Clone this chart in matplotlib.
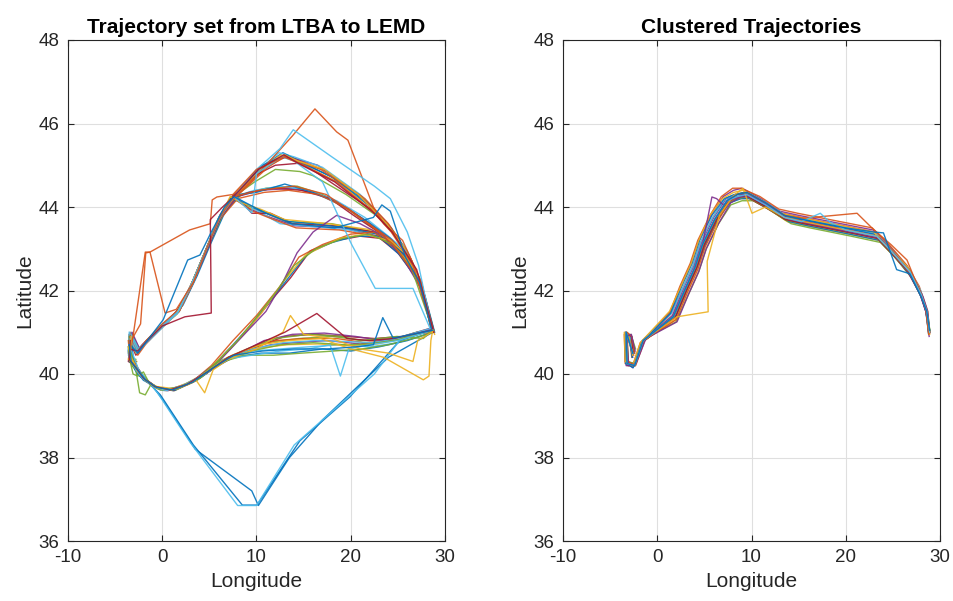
import matplotlib
matplotlib.use("Agg")
import matplotlib.pyplot as plt
from cycler import cycler

plt.rcParams['font.family'] = ['Liberation Sans', 'DejaVu Sans']
plt.rcParams['axes.unicode_minus'] = False

MATLAB = ['#0072BD', '#D95319', '#EDB120', '#7E2F8E', '#77AC30', '#4DBEEE', '#A2142F']

# ---------------- Left panel: full trajectory set (lon, lat) ----------------
north_top = [
    [(28.8,41.0),(27.8,41.9),(26.5,42.7),(24.3,43.5),(22.4,43.95),(18.1,44.7),(14.6,45.1),(12.8,45.3),(10.4,44.95),(7.5,44.25),(6.1,43.75),(4.7,43.0),(3.3,42.2),(1.8,41.5),(0.0,41.15),(-1.8,40.75),(-2.6,40.55),(-3.3,40.95),(-3.5,40.45),(-3.0,40.3)],
    [(28.7,41.1),(27.6,42.1),(26.2,42.85),(24.0,43.6),(21.5,44.2),(17.5,44.85),(14.2,45.15),(13.1,45.2),(11.0,44.95),(8.0,44.3),(6.4,43.8),(5.0,43.1),(3.5,42.3),(2.0,41.6),(0.3,41.2),(-1.5,40.8),(-2.5,40.6),(-3.4,41.0),(-3.6,40.5),(-2.9,40.25)],
    [(28.9,40.95),(27.9,41.8),(26.8,42.5),(24.6,43.4),(22.8,43.8),(19.0,44.55),(15.0,45.0),(12.6,45.25),(10.0,44.85),(7.2,44.2),(5.9,43.7),(4.4,42.85),(3.0,42.1),(1.5,41.45),(-0.2,41.1),(-2.0,40.7),(-2.8,40.5),(-3.2,40.85),(-3.4,40.35),(-2.7,40.3)],
    [(28.6,41.05),(27.5,42.2),(25.8,43.0),(23.5,43.7),(20.5,44.35),(16.5,45.0),(13.5,45.2),(12.2,45.15),(9.6,44.75),(7.8,44.3),(6.2,43.8),(4.9,43.05),(3.6,42.35),(2.1,41.65),(0.5,41.25),(-1.3,40.85),(-2.4,40.6),(-3.1,40.9),(-3.5,40.6),(-3.2,40.3)],
    [(28.7,41.0),(27.4,42.2),(25.5,43.1),(23.0,43.75),(19.5,44.3),(16.0,44.75),(14.6,44.85),(12.0,44.9),(9.8,44.6),(7.6,44.25),(6.0,43.7),(4.6,42.95),(3.2,42.2),(1.7,41.5),(0.1,41.15),(-1.7,40.75),(-2.7,40.55),(-3.4,40.8),(-3.5,40.4),(-2.8,40.35)],
    [(28.8,41.05),(27.7,42.0),(26.0,42.95),(24.0,43.55),(21.0,44.3),(17.0,44.95),(14.0,45.2),(12.4,45.3),(10.8,45.0),(8.2,44.35),(6.3,43.85),(4.8,43.0),(3.4,42.25),(1.9,41.55),(0.2,41.2),(-1.6,40.8),(-2.6,40.6),(-3.3,41.0),(-3.4,40.45),(-2.9,40.2)],
    [(28.7,41.0),(27.5,42.1),(25.2,43.2),(22.5,43.9),(19.8,44.3),(16.2,44.85),(14.6,45.05),(12.0,45.0),(10.2,44.8),(7.4,44.25),(6.1,43.8),(4.6,42.95),(3.1,42.15),(1.6,41.5),(-0.1,41.15),(-1.9,40.75),(-2.7,40.55),(-3.5,40.9),(-3.4,40.4),(-2.8,40.3)],
    [(28.9,41.0),(27.9,41.85),(26.6,42.6),(24.4,43.45),(21.8,44.1),(17.8,44.75),(14.8,45.05),(13.2,45.25),(10.6,45.0),(7.9,44.3),(6.5,43.8),(5.1,43.1),(3.7,42.35),(2.2,41.65),(0.4,41.2),(-1.4,40.8),(-2.5,40.6),(-3.4,40.95),(-3.6,40.55),(-3.1,40.25)],
    [(28.6,41.0),(27.6,42.0),(26.4,42.75),(24.1,43.55),(21.2,44.25),(16.8,44.9),(13.8,45.15),(12.9,45.2),(11.2,44.95),(8.1,44.3),(6.2,43.75),(4.7,42.95),(3.3,42.2),(1.8,41.55),(0.1,41.2),(-1.7,40.8),(-2.6,40.5),(-3.3,40.75),(-3.5,40.3),(-2.9,40.3)],
    [(28.8,41.0),(27.6,42.05),(25.9,42.95),(23.8,43.6),(20.8,44.3),(17.2,44.9),(14.4,45.1),(13.0,45.25),(10.5,44.9),(7.7,44.25),(6.0,43.75),(4.5,42.9),(3.1,42.15),(1.6,41.45),(-0.1,41.1),(-1.9,40.7),(-2.7,40.5),(-3.4,40.95),(-3.5,40.5),(-3.0,40.2)],
]

north_mid = [
    [(28.7,41.0),(27.6,42.0),(26.0,42.8),(24.5,43.15),(22.0,43.6),(19.5,44.0),(17.5,44.25),(13.9,44.45),(10.4,44.4),(8.0,44.25),(6.3,43.8),(4.8,43.05),(3.4,42.25),(1.8,41.5),(0.0,41.15),(-1.8,40.75),(-2.6,40.5),(-3.3,40.8),(-3.5,40.35),(-2.9,40.3)],
    [(28.8,41.05),(27.8,41.9),(26.2,42.7),(24.8,43.05),(22.4,43.5),(20.0,43.9),(17.0,44.3),(14.3,44.5),(11.0,44.45),(8.4,44.3),(6.5,43.85),(5.0,43.1),(3.5,42.3),(2.0,41.6),(0.2,41.2),(-1.5,40.8),(-2.5,40.6),(-3.2,40.95),(-3.4,40.5),(-2.7,40.2)],
    [(28.6,41.1),(27.4,42.2),(25.8,42.95),(24.0,43.3),(21.5,43.75),(18.5,44.15),(15.5,44.4),(12.5,44.5),(9.8,44.4),(7.6,44.25),(6.0,43.75),(4.5,42.9),(3.1,42.15),(1.6,41.45),(-0.1,41.15),(-1.9,40.7),(-2.7,40.5),(-3.4,40.9),(-3.5,40.45),(-3.0,40.3)],
    [(28.7,41.0),(27.7,41.95),(26.3,42.6),(24.6,43.1),(22.6,43.45),(20.3,43.8),(17.8,44.2),(14.8,44.4),(11.8,44.45),(9.2,44.35),(7.3,44.2),(5.8,43.6),(4.3,42.8),(2.9,42.05),(1.3,41.4),(-0.4,41.05),(-2.1,40.7),(-2.8,40.45),(-3.3,40.7),(-3.6,40.3),(-2.8,40.2)],
    [(28.8,41.0),(27.5,42.1),(25.9,42.85),(24.2,43.25),(21.8,43.65),(19.0,44.05),(16.0,44.35),(13.0,44.55),(10.0,44.35),(8.2,44.3),(6.2,43.75),(4.7,42.95),(3.3,42.2),(1.7,41.5),(0.0,41.15),(-1.7,40.75),(-2.6,40.55),(-3.5,40.95),(-3.4,40.35),(-2.9,40.25)],
    [(28.7,41.05),(27.5,42.05),(26.1,42.75),(24.4,43.2),(22.2,43.55),(19.8,43.95),(16.6,44.3),(13.4,44.4),(10.8,44.35),(8.0,44.2),(6.1,43.7),(4.6,42.95),(3.2,42.2),(1.7,41.5),(0.0,41.15),(-1.8,40.7),(-2.6,40.45),(-3.3,40.85),(-3.5,40.4),(-2.8,40.25)],
]

north_low = [
    [(28.7,41.0),(27.3,42.2),(26.0,42.75),(24.5,43.05),(22.8,43.35),(18.5,43.55),(13.6,43.6),(11.0,43.85),(9.0,44.0),(7.4,44.25),(6.1,43.75),(4.7,43.0),(3.3,42.2),(1.8,41.5),(0.0,41.15),(-1.8,40.75),(-2.6,40.55),(-3.3,40.9),(-3.5,40.4),(-3.0,40.25)],
    [(28.8,41.05),(27.5,42.1),(26.2,42.7),(24.7,43.0),(23.0,43.3),(19.0,43.5),(14.0,43.55),(11.5,43.75),(9.3,43.95),(7.8,44.2),(6.3,43.8),(4.9,43.05),(3.5,42.3),(2.0,41.6),(0.2,41.2),(-1.5,40.8),(-2.4,40.6),(-3.2,41.0),(-3.5,40.5),(-2.8,40.2)],
    [(28.6,41.1),(27.2,42.25),(25.8,42.85),(24.3,43.1),(22.5,43.4),(18.0,43.6),(13.3,43.65),(10.8,43.9),(8.8,44.05),(7.3,44.25),(6.0,43.7),(4.5,42.9),(3.1,42.15),(1.6,41.45),(-0.2,41.1),(-2.0,40.7),(-2.7,40.5),(-3.4,40.85),(-3.4,40.35),(-2.8,40.3)],
    [(28.7,41.0),(27.4,42.15),(26.1,42.8),(24.6,43.0),(23.2,43.25),(20.0,43.45),(15.0,43.55),(12.5,43.6),(9.8,43.95),(7.7,44.25),(6.2,43.8),(4.8,43.05),(3.4,42.25),(1.9,41.55),(0.1,41.2),(-1.6,40.8),(-2.5,40.6),(-3.3,40.95),(-3.6,40.45),(-3.1,40.3)],
    [(28.8,41.0),(27.5,42.1),(26.0,42.8),(24.4,43.1),(22.6,43.4),(18.2,43.55),(13.8,43.6),(11.5,43.85),(9.5,43.85),(8.5,44.1),(7.5,44.25),(6.0,43.7),(4.6,42.95),(3.2,42.2),(1.7,41.5),(0.0,41.15),(-1.8,40.75),(-2.7,40.5),(-3.4,40.8),(-3.5,40.4),(-2.9,40.25)],
    [(28.7,41.05),(27.3,42.2),(25.9,42.8),(24.5,43.1),(22.9,43.35),(19.5,43.5),(16.0,43.6),(13.5,43.65),(10.5,43.9),(8.6,44.1),(7.2,44.2),(5.9,43.65),(4.4,42.85),(3.0,42.1),(1.5,41.45),(-0.3,41.1),(-2.0,40.7),(-2.8,40.5),(-3.2,40.8),(-3.5,40.3),(-2.9,40.2)],
    [(28.6,41.0),(27.4,42.2),(26.1,42.7),(24.6,43.05),(22.7,43.3),(18.8,43.45),(14.2,43.5),(11.8,43.7),(9.6,43.9),(7.6,44.2),(6.1,43.75),(4.7,43.0),(3.3,42.25),(1.8,41.55),(0.0,41.2),(-1.7,40.8),(-2.6,40.55),(-3.5,40.95),(-3.4,40.4),(-2.9,40.3)],
    [(28.8,41.0),(27.2,42.3),(25.7,42.9),(24.2,43.2),(22.3,43.45),(17.6,43.6),(13.0,43.7),(10.4,43.95),(8.4,44.1),(7.2,44.25),(5.8,43.6),(4.3,42.8),(2.9,42.05),(1.4,41.4),(-0.3,41.1),(-2.0,40.7),(-2.8,40.5),(-3.3,40.8),(-3.6,40.35),(-3.0,40.3)],
]

south_band = [
    [(-3.4,40.9),(-3.5,40.4),(-2.8,40.2),(-2.2,39.95),(-1.3,39.75),(-0.2,39.62),(1.6,39.65),(4.0,39.9),(6.1,40.25),(9.0,40.55),(11.5,40.7),(13.9,40.75),(17.5,40.8),(21.0,40.72),(24.5,40.8),(26.8,40.95),(28.6,41.05)],
    [(-3.3,40.7),(-3.2,40.3),(-2.5,40.1),(-1.6,39.85),(-0.5,39.65),(1.3,39.6),(3.7,39.85),(5.8,40.2),(8.5,40.5),(11.0,40.75),(14.5,40.85),(18.0,40.9),(21.5,40.8),(24.8,40.85),(27.0,41.0),(28.8,41.05)],
    [(-3.5,41.0),(-3.6,40.5),(-3.0,40.25),(-2.4,40.0),(-1.0,39.7),(0.2,39.6),(2.0,39.7),(4.3,39.95),(6.5,40.3),(9.5,40.55),(12.5,40.6),(15.5,40.65),(19.0,40.7),(22.0,40.65),(25.0,40.75),(27.2,40.9),(28.7,41.0)],
    [(-3.2,40.85),(-3.4,40.35),(-2.6,40.15),(-1.9,39.9),(-0.8,39.7),(0.6,39.62),(2.4,39.75),(4.6,40.0),(6.8,40.35),(10.0,40.65),(13.0,40.9),(16.0,40.95),(19.5,40.9),(22.5,40.85),(25.5,40.9),(28.5,41.1)],
    [(-3.4,40.6),(-3.3,40.25),(-2.7,40.05),(-2.0,39.85),(-0.6,39.68),(1.0,39.62),(3.0,39.8),(5.2,40.1),(7.5,40.4),(10.5,40.5),(13.5,40.5),(17.0,40.6),(20.0,40.55),(23.0,40.65),(26.0,40.8),(28.7,41.0)],
    [(-3.6,40.8),(-3.4,40.3),(-2.9,40.15),(-2.3,39.95),(-1.1,39.72),(0.4,39.6),(2.2,39.72),(4.2,39.95),(6.3,40.3),(9.2,40.6),(12.0,40.8),(15.0,40.85),(18.5,40.85),(21.5,40.75),(24.2,40.8),(26.5,40.95),(28.8,41.0)],
    [(-3.3,40.8),(-3.5,40.35),(-2.7,40.1),(-2.0,39.9),(-0.9,39.7),(0.8,39.62),(2.6,39.78),(4.8,40.05),(7.0,40.4),(10.2,40.62),(13.2,40.7),(16.5,40.72),(19.8,40.68),(22.8,40.72),(25.8,40.85),(28.6,41.05)],
    [(-3.5,40.7),(-3.3,40.3),(-2.6,40.05),(-1.7,39.85),(-0.4,39.66),(1.2,39.6),(3.4,39.82),(5.5,40.15),(7.8,40.45),(10.8,40.8),(13.8,40.95),(17.2,40.98),(20.5,40.9),(23.4,40.8),(26.2,40.9),(28.7,41.1)],
    [(-3.4,40.5),(-3.2,40.2),(-2.5,40.0),(-1.4,39.78),(-0.1,39.64),(1.8,39.66),(4.1,39.92),(6.2,40.28),(8.8,40.45),(11.8,40.45),(14.8,40.5),(18.2,40.55),(21.2,40.6),(24.0,40.7),(26.6,40.85),(28.8,41.0)],
    [(-3.3,40.9),(-3.4,40.4),(-2.8,40.15),(-2.1,39.92),(-1.2,39.74),(0.1,39.62),(1.9,39.7),(4.4,39.98),(6.6,40.32),(9.6,40.6),(12.8,40.75),(16.2,40.8),(19.2,40.78),(22.2,40.75),(25.2,40.85),(28.6,41.05)],
]

diag_route = [
    [(-3.4,40.9),(-3.5,40.4),(-2.8,40.15),(-1.9,39.9),(-0.6,39.68),(1.2,39.62),(3.2,39.8),(5.4,40.2),(7.2,40.6),(9.0,41.05),(11.7,41.8),(13.6,42.3),(15.7,42.95),(18.5,43.2),(21.0,43.3),(23.1,43.25),(25.0,42.9),(27.3,42.2),(28.6,41.1)],
    [(-3.3,40.7),(-3.3,40.3),(-2.6,40.1),(-1.7,39.85),(-0.4,39.66),(1.4,39.62),(3.5,39.85),(5.6,40.25),(7.5,40.7),(9.3,41.15),(12.0,41.9),(13.9,42.45),(15.5,42.9),(18.0,43.15),(20.5,43.3),(23.0,43.3),(25.2,42.85),(27.4,42.15),(28.7,41.0)],
    [(-3.5,40.8),(-3.4,40.35),(-2.7,40.1),(-2.0,39.88),(-0.8,39.7),(0.9,39.62),(3.0,39.78),(5.2,40.2),(7.5,40.8),(10.0,41.4),(12.5,42.1),(14.5,42.8),(17.0,43.1),(20.0,43.35),(22.5,43.4),(25.0,42.95),(27.2,42.25),(28.7,41.05)],
    [(-3.4,40.6),(-3.2,40.25),(-2.5,40.05),(-1.6,39.82),(-0.3,39.64),(1.6,39.64),(3.8,39.88),(5.8,40.3),(8.0,40.8),(10.5,41.45),(12.8,42.2),(15.2,42.85),(18.8,43.25),(21.5,43.35),(24.0,43.2),(26.0,42.7),(27.5,42.0),(28.6,41.05)],
    [(-3.3,40.85),(-3.5,40.45),(-2.9,40.2),(-2.2,39.95),(-1.0,39.72),(0.6,39.6),(2.8,39.76),(6.0,40.3),(8.5,40.9),(11.0,41.5),(12.8,42.2),(14.3,42.9),(16.0,43.4),(18.5,43.8),(21.0,43.6),(23.5,43.3),(25.5,42.8),(27.3,42.1),(28.7,41.0)],
    [(-3.5,40.9),(-3.4,40.3),(-2.7,40.12),(-1.8,39.86),(-0.5,39.66),(1.1,39.62),(3.3,39.82),(5.5,40.22),(7.8,40.75),(9.8,41.3),(12.2,42.0),(14.0,42.6),(16.3,43.0),(19.2,43.25),(22.0,43.35),(24.5,43.1),(26.5,42.5),(28.7,41.05)],
]

# far southern detours: (points, MATLAB colour index)
far_south = [
    ([(-3.4,40.6),(-2.7,40.0),(-1.5,39.8),(-0.2,39.5),(3.3,38.3),(8.5,36.86),(10.05,36.86),(14.6,38.4),(19.9,39.45),(25.2,40.8),(28.6,41.05)], 0),
    ([(-3.3,40.8),(-2.9,40.1),(-1.0,39.7),(0.0,39.4),(3.5,38.2),(9.5,37.2),(10.2,36.85),(13.5,38.0),(17.0,38.9),(20.5,39.65),(24.0,40.4),(28.7,41.0)], 0),
    ([(-3.5,40.7),(-2.5,40.1),(-0.5,39.55),(3.0,38.35),(8.0,36.85),(10.0,36.85),(14.0,38.3),(19.5,39.4),(22.5,40.0),(25.5,40.9),(28.6,41.1)], 5),
]

# individual outlier flights: (points, MATLAB colour index)
left_outliers = [
    ([(28.7,41.0),(27.5,42.2),(25.5,43.2),(23.5,43.6),(22.4,44.0),(19.7,45.6),(18.5,45.8),(16.2,46.35),(13.8,45.7),(11.0,45.0),(8.0,44.3),(6.2,43.8),(4.7,43.0),(3.3,42.2),(1.8,41.5),(0.0,41.15),(-1.8,40.75),(-2.7,40.5),(-3.4,40.9),(-3.5,40.4)], 1),
    ([(28.6,41.1),(27.2,42.6),(26.0,43.4),(24.2,44.2),(22.5,44.5),(18.0,45.2),(13.9,45.85),(12.5,45.4),(10.0,44.9),(7.8,44.3),(6.1,43.75),(4.6,42.95),(3.2,42.2),(1.7,41.5),(0.0,41.15),(-1.8,40.75),(-2.6,40.55),(-3.3,40.9),(-3.5,40.4)], 5),
    ([(28.4,41.1),(26.6,42.05),(22.6,42.05),(20.1,43.1),(17.0,44.6),(14.0,45.1),(12.7,45.2),(10.0,44.8),(9.5,43.86),(7.6,44.25),(6.0,43.7),(4.5,42.9),(3.1,42.15),(1.6,41.45),(-0.1,41.1),(-1.9,40.7),(-2.7,40.5),(-3.4,40.85),(-3.4,40.35)], 5),
    ([(-3.4,40.5),(-3.1,40.9),(-1.8,42.92),(-1.3,42.92),(2.9,43.45),(5.1,43.6),(5.3,44.17),(5.8,44.24),(7.5,44.3),(10.0,44.9),(12.9,45.2),(15.0,45.0),(18.5,44.6),(22.3,43.9),(24.3,43.4),(26.6,42.6),(28.7,41.05)], 1),
    ([(-3.3,40.8),(-2.3,41.2),(-1.75,42.9),(-1.3,42.92),(0.3,41.46),(1.5,41.55),(3.3,42.2),(4.7,43.0),(6.1,43.75),(7.6,44.25),(10.3,44.4),(14.0,44.5),(17.4,44.3),(21.9,43.6),(24.5,43.1),(27.4,42.2),(28.7,41.0)], 1),
    ([(-3.5,40.6),(-2.6,40.55),(-1.8,40.75),(0.0,41.15),(2.4,41.37),(5.2,41.46),(5.1,43.7),(6.4,44.0),(7.6,44.25),(10.2,44.9),(12.9,45.25),(14.8,45.0),(18.3,44.6),(22.5,43.85),(24.4,43.4),(27.0,42.5),(28.8,41.0)], 6),
    ([(-3.4,40.7),(-2.6,40.5),(0.1,41.3),(2.7,42.73),(4.0,42.85),(5.2,43.4),(6.6,44.0),(7.6,44.25),(11.0,43.85),(13.7,43.6),(18.3,43.5),(22.4,43.75),(23.3,44.05),(24.2,43.9),(25.8,42.8),(27.3,42.2),(28.6,41.05)], 0),
    ([(-3.6,40.65),(-3.4,40.3),(-3.1,40.0),(-2.6,39.95),(-2.0,40.05),(-1.3,39.75),(-0.2,39.62),(1.5,39.65),(4.0,39.9),(6.0,40.3),(9.0,40.6),(12.0,40.85),(15.5,40.95),(19.0,40.9),(21.0,40.8),(23.0,40.85),(24.9,40.9),(27.7,40.85),(28.6,41.05)], 4),
    ([(-3.3,40.5),(-2.8,40.1),(-2.4,39.55),(-1.8,39.5),(-1.2,39.75),(0.0,39.62),(2.0,39.7),(4.2,39.95),(6.4,40.3),(9.4,40.55),(12.6,40.7),(16.0,40.75),(19.5,40.7),(22.0,40.72),(25.0,40.82),(28.7,41.05)], 4),
    ([(-3.4,40.8),(-3.5,40.4),(-2.8,40.1),(-2.1,39.9),(-0.9,39.7),(0.5,39.6),(2.5,39.75),(4.5,40.0),(6.6,40.35),(9.5,40.45),(12.5,40.55),(15.5,40.6),(17.8,40.7),(18.9,39.95),(19.8,40.6),(22.0,40.7),(25.0,40.8),(28.7,41.05)], 5),
    ([(-3.6,40.65),(-3.3,40.4),(-2.6,40.1),(-1.8,39.85),(-0.6,39.7),(1.2,39.65),(2.8,39.75),(3.6,39.85),(4.5,39.55),(5.4,40.1),(7.0,40.35),(10.0,40.6),(12.8,41.0),(13.6,41.4),(15.0,40.95),(18.0,40.85),(21.0,40.6),(24.0,40.5),(26.6,40.3),(27.1,40.8),(28.6,41.0)], 2),
    ([(-3.3,40.9),(-3.4,40.4),(-2.7,40.1),(-1.9,39.88),(-0.7,39.68),(1.0,39.62),(3.1,39.8),(5.3,40.15),(7.4,40.45),(10.4,40.7),(13.4,40.8),(16.8,40.85),(20.0,40.6),(23.5,40.4),(27.7,39.86),(28.3,39.95),(28.5,40.8),(28.7,41.05)], 2),
    ([(-3.4,40.8),(-3.5,40.35),(-2.8,40.15),(-2.0,39.9),(-0.8,39.7),(0.8,39.62),(2.6,39.75),(4.8,40.05),(7.0,40.4),(10.0,40.7),(13.0,41.0),(16.4,41.45),(19.6,40.85),(22.0,40.8),(24.5,40.85),(28.6,41.05)], 6),
    ([(-3.5,40.7),(-3.3,40.3),(-2.6,40.1),(-1.8,39.86),(-0.6,39.68),(1.1,39.62),(3.2,39.8),(5.4,40.15),(7.6,40.45),(10.6,40.55),(14.0,40.6),(17.5,40.6),(20.5,40.65),(22.4,40.7),(23.4,41.35),(24.5,40.86),(26.5,40.95),(28.7,41.05)], 0),
]

# ---------------- Right panel: clustered trajectories ----------------
cluster = [
    [(28.9,41.0),(28.6,41.5),(28.0,41.9),(26.8,42.45),(24.8,42.95),(23.3,43.3),(20.0,43.45),(15.5,43.65),(13.5,43.75),(11.5,44.05),(9.5,44.3),(8.5,44.25),(7.4,44.15),(6.1,43.7),(4.8,43.1),(4.0,42.55),(2.9,42.0),(1.7,41.37),(-1.5,40.8),(-2.4,40.2),(-3.2,40.25),(-3.3,41.0),(-2.8,40.9),(-2.6,40.5)],
    [(28.8,40.95),(28.5,41.55),(27.9,42.0),(26.7,42.5),(24.6,43.05),(23.1,43.4),(19.8,43.55),(15.3,43.75),(13.3,43.85),(11.3,44.1),(9.3,44.35),(8.3,44.3),(7.2,44.2),(5.9,43.75),(4.6,43.15),(3.8,42.6),(2.7,42.05),(1.5,41.45),(-1.6,40.75),(-2.5,40.2),(-3.3,40.3),(-3.4,40.95),(-2.9,40.85),(-2.5,40.45)],
    [(28.9,41.05),(28.7,41.45),(28.1,41.85),(26.9,42.4),(25.0,42.85),(23.5,43.2),(20.3,43.35),(15.8,43.55),(13.8,43.65),(11.8,43.95),(9.8,44.2),(8.7,44.2),(7.6,44.1),(6.3,43.65),(5.0,43.05),(4.2,42.5),(3.1,41.95),(1.9,41.3),(-1.4,40.8),(-2.3,40.25),(-3.1,40.2),(-3.2,40.95),(-2.7,40.85),(-2.4,40.55)],
    [(28.85,40.9),(28.5,41.6),(27.8,42.05),(26.6,42.55),(24.5,43.1),(22.9,43.45),(19.5,43.6),(15.0,43.8),(13.0,43.9),(11.0,44.2),(9.0,44.45),(8.1,44.4),(7.0,44.25),(5.7,43.8),(4.4,43.2),(3.6,42.65),(2.5,42.1),(1.4,41.5),(-1.7,40.75),(-2.6,40.15),(-3.4,40.3),(-3.4,41.0),(-3.0,40.9),(-2.6,40.4)],
    [(28.95,41.0),(28.7,41.4),(28.2,41.8),(27.0,42.3),(25.2,42.8),(23.7,43.15),(20.6,43.3),(16.2,43.5),(14.2,43.6),(12.2,43.9),(10.2,44.15),(9.0,44.15),(7.8,44.05),(6.5,43.6),(5.2,43.0),(4.4,42.45),(3.3,41.9),(2.0,41.25),(-1.3,40.85),(-2.3,40.3),(-3.0,40.2),(-3.3,40.85),(-2.8,40.95),(-2.3,40.6)],
    [(28.8,40.95),(28.6,41.55),(28.0,41.95),(26.8,42.5),(24.7,43.0),(23.2,43.35),(20.1,43.5),(15.6,43.7),(13.6,43.8),(11.6,44.1),(9.6,44.35),(8.6,44.3),(7.5,44.2),(6.2,43.75),(4.9,43.1),(4.1,42.55),(3.0,42.0),(1.8,41.4),(-1.5,40.78),(-2.4,40.25),(-3.2,40.3),(-3.3,41.0),(-2.8,40.85),(-2.5,40.5)],
    [(28.9,41.0),(28.5,41.5),(27.9,41.9),(26.7,42.4),(24.9,42.9),(23.4,43.25),(20.2,43.4),(15.7,43.6),(13.6,43.7),(11.4,44.0),(9.4,44.25),(8.4,44.2),(7.3,44.1),(6.0,43.65),(4.7,43.05),(3.9,42.5),(2.8,41.95),(1.6,41.35),(-1.6,40.75),(-2.4,40.2),(-3.2,40.2),(-3.3,40.9),(-2.9,40.9),(-2.6,40.45)],
    [(28.9,41.05),(28.6,41.45),(28.1,41.8),(26.9,42.35),(25.1,42.85),(23.6,43.2),(20.4,43.35),(16.0,43.55),(14.0,43.65),(12.0,43.95),(10.0,44.2),(8.9,44.2),(7.7,44.1),(6.4,43.7),(5.1,43.1),(4.3,42.6),(3.2,42.05),(2.0,41.4),(-1.4,40.8),(-2.3,40.25),(-3.1,40.25),(-3.2,40.9),(-2.7,40.9),(-2.4,40.5)],
    [(28.8,41.0),(28.5,41.6),(27.8,42.1),(26.5,42.6),(24.4,43.15),(22.8,43.5),(19.4,43.65),(14.9,43.85),(12.9,43.95),(10.9,44.25),(8.9,44.45),(8.0,44.45),(6.8,44.25),(5.6,43.8),(4.3,43.2),(3.5,42.65),(2.4,42.1),(1.3,41.45),(-1.8,40.75),(-2.6,40.2),(-3.4,40.25),(-3.5,40.95),(-3.0,40.95),(-2.7,40.4)],
    [(28.9,40.95),(28.7,41.5),(28.1,41.9),(26.9,42.45),(24.9,42.95),(23.4,43.3),(20.1,43.45),(15.6,43.65),(13.6,43.75),(11.6,44.05),(9.6,44.3),(8.6,44.25),(7.5,44.15),(6.2,43.7),(4.9,43.1),(4.1,42.55),(3.0,42.0),(1.8,41.4),(-1.5,40.8),(-2.4,40.2),(-3.2,40.25),(-3.3,41.0),(-2.8,40.9),(-2.5,40.5)],
    [(28.8,41.0),(28.5,41.5),(27.9,41.95),(26.6,42.45),(24.6,42.95),(23.1,43.3),(19.9,43.45),(15.4,43.65),(13.4,43.75),(11.4,44.1),(9.4,44.3),(8.4,44.3),(7.3,44.2),(6.0,43.75),(4.7,43.15),(3.9,42.6),(2.8,42.05),(1.6,41.4),(-1.6,40.78),(-2.5,40.25),(-3.3,40.2),(-3.4,40.9),(-2.9,40.9),(-2.6,40.5)],
    [(28.9,41.05),(28.6,41.5),(28.0,41.85),(26.8,42.4),(24.8,42.9),(23.3,43.25),(20.0,43.4),(15.5,43.6),(13.5,43.7),(11.5,44.0),(9.5,44.25),(8.5,44.2),(7.4,44.1),(6.1,43.65),(4.8,43.05),(4.0,42.5),(2.9,41.95),(1.7,41.35),(-1.5,40.78),(-2.4,40.25),(-3.2,40.3),(-3.3,40.95),(-2.8,40.85),(-2.5,40.55)],
    [(28.85,41.0),(28.55,41.55),(27.95,42.0),(26.75,42.5),(24.75,43.0),(23.25,43.35),(19.9,43.5),(15.4,43.7),(13.4,43.8),(11.4,44.1),(9.4,44.35),(8.4,44.3),(7.2,44.2),(5.9,43.75),(4.6,43.15),(3.8,42.6),(2.7,42.05),(1.5,41.45),(-1.6,40.8),(-2.5,40.2),(-3.3,40.25),(-3.4,41.0),(-2.9,40.9),(-2.6,40.45)],
    [(28.9,40.98),(28.65,41.45),(28.05,41.85),(26.85,42.4),(24.85,42.9),(23.35,43.25),(20.1,43.4),(15.6,43.6),(13.6,43.7),(11.6,44.0),(9.6,44.25),(8.6,44.25),(7.6,44.15),(6.3,43.7),(5.0,43.1),(4.2,42.55),(3.1,42.0),(1.9,41.35),(-1.4,40.8),(-2.35,40.2),(-3.15,40.25),(-3.25,40.95),(-2.75,40.9),(-2.55,40.5)],
    [(28.8,40.95),(28.5,41.5),(27.9,41.95),(26.7,42.5),(24.6,43.0),(23.0,43.35),(19.7,43.5),(15.2,43.7),(13.2,43.8),(11.2,44.1),(9.2,44.35),(8.2,44.3),(7.1,44.2),(5.8,43.8),(4.5,43.2),(3.7,42.65),(2.6,42.1),(1.4,41.45),(-1.7,40.75),(-2.55,40.15),(-3.35,40.25),(-3.45,40.95),(-2.95,40.9),(-2.65,40.4)],
    [(28.9,41.0),(28.6,41.45),(28.05,41.9),(26.9,42.45),(24.9,42.95),(23.4,43.3),(20.2,43.45),(15.7,43.65),(13.7,43.75),(11.7,44.05),(9.7,44.3),(8.7,44.25),(7.7,44.15),(6.4,43.65),(5.1,43.05),(4.3,42.5),(3.2,41.95),(2.0,41.3),(-1.3,40.82),(-2.3,40.2),(-3.1,40.3),(-3.2,41.0),(-2.7,40.9),(-2.4,40.5)],
    [(28.85,40.95),(28.5,41.55),(27.9,42.0),(26.6,42.55),(24.5,43.05),(22.95,43.4),(19.6,43.55),(15.1,43.75),(13.1,43.85),(11.1,44.15),(9.1,44.4),(8.1,44.35),(6.9,44.2),(5.6,43.8),(4.4,43.2),(3.6,42.65),(2.5,42.1),(1.3,41.5),(-1.8,40.75),(-2.6,40.2),(-3.4,40.3),(-3.5,41.0),(-3.0,40.9),(-2.6,40.45)],
    [(28.9,41.0),(28.7,41.5),(28.2,41.85),(27.0,42.4),(25.1,42.9),(23.6,43.25),(20.5,43.4),(16.1,43.6),(14.1,43.7),(12.1,44.0),(10.1,44.25),(8.9,44.25),(7.8,44.1),(6.5,43.6),(5.2,43.0),(4.4,42.45),(3.3,41.9),(2.1,41.25),(-1.2,40.85),(-2.25,40.25),(-3.05,40.2),(-3.25,40.9),(-2.75,40.95),(-2.35,40.55)],
]

right_outliers = [
    ([(28.9,41.0),(28.5,41.5),(27.9,41.9),(26.7,42.45),(24.8,42.95),(23.3,43.3),(20.0,43.45),(15.5,43.65),(13.5,43.75),(11.5,44.05),(9.5,44.3),(8.0,44.2),(7.0,44.05),(6.3,44.2),(5.8,44.24),(4.8,43.1),(4.0,42.55),(2.9,42.0),(1.7,41.37),(-1.5,40.8),(-2.4,40.2),(-3.2,40.25),(-3.3,41.0),(-2.6,40.5)], 3),
    ([(28.9,41.0),(28.6,41.5),(28.0,41.9),(26.8,42.45),(24.8,42.95),(23.3,43.3),(20.0,43.45),(15.5,43.65),(13.5,43.75),(11.5,44.0),(10.05,43.85),(9.1,44.45),(8.0,44.25),(6.6,43.8),(5.3,42.7),(5.4,41.49),(2.1,41.37),(-1.5,40.8),(-2.4,40.2),(-3.2,40.25),(-3.3,41.0),(-2.6,40.5)], 2),
    ([(28.8,40.95),(28.5,41.55),(27.9,41.95),(26.5,42.73),(24.8,43.1),(23.0,43.45),(21.2,43.85),(15.5,43.73),(13.5,43.8),(11.5,44.1),(9.5,44.35),(8.5,44.3),(7.4,44.15),(6.1,43.7),(4.8,43.1),(4.0,42.55),(2.9,42.0),(1.7,41.37),(-1.5,40.8),(-2.4,40.2),(-3.2,40.25),(-3.3,41.0),(-2.6,40.5)], 1),
    ([(28.9,41.0),(28.6,41.5),(28.0,41.9),(26.8,42.45),(24.8,42.95),(23.3,43.3),(20.0,43.45),(18.3,43.64),(17.3,43.85),(15.3,43.65),(13.5,43.75),(11.5,44.05),(9.5,44.3),(8.5,44.25),(7.4,44.15),(6.1,43.7),(4.8,43.1),(4.0,42.55),(2.9,42.0),(1.7,41.37),(-1.5,40.8),(-2.4,40.2),(-3.2,40.25),(-3.3,41.0),(-2.6,40.5)], 5),
    ([(28.9,41.05),(28.6,41.5),(28.0,41.85),(26.8,42.4),(25.4,42.5),(24.0,43.38),(23.0,43.4),(20.0,43.5),(15.5,43.7),(13.5,43.8),(11.5,44.1),(9.5,44.35),(8.5,44.3),(7.4,44.15),(6.1,43.7),(4.8,43.1),(4.0,42.55),(2.9,42.0),(1.7,41.37),(-1.5,40.8),(-2.4,40.2),(-3.2,40.25),(-3.3,41.0),(-2.6,40.5)], 0),
]

fig = plt.figure(figsize=(9.54, 6.01), dpi=100)
ax1 = fig.add_axes([68/954, 1-541/601, 377/954, 501/601])
ax2 = fig.add_axes([563/954, 1-541/601, 377/954, 501/601])

LW = 1.0
grey = '#262626'

def style(ax, title):
    ax.set_xlim(-10, 30)
    ax.set_ylim(36, 48)
    ax.set_xticks([-10, 0, 10, 20, 30])
    ax.set_yticks([36, 38, 40, 42, 44, 46, 48])
    ax.grid(True, color='#dfdfdf', linewidth=0.8)
    ax.set_axisbelow(True)
    ax.tick_params(direction='in', top=True, right=True, length=4, width=0.8,
                   colors=grey, labelsize=13.5, pad=6)
    for s in ax.spines.values():
        s.set_color(grey)
        s.set_linewidth(0.8)
    ax.set_title(title, fontsize=15, fontweight='bold', color='black', pad=5)
    ax.set_xlabel('Longitude', fontsize=15, color=grey, labelpad=4)
    ax.set_ylabel('Latitude', fontsize=15, color=grey, labelpad=3)

ax1.set_prop_cycle(cycler(color=MATLAB))
for group in (north_top, north_mid, north_low, south_band, diag_route):
    for tr in group:
        ax1.plot([p[0] for p in tr], [p[1] for p in tr], lw=LW, alpha=0.9)
for tr, ci in far_south + left_outliers:
    ax1.plot([p[0] for p in tr], [p[1] for p in tr], lw=LW, color=MATLAB[ci], alpha=0.9)

ax2.set_prop_cycle(cycler(color=MATLAB))
for tr in cluster:
    ax2.plot([p[0] for p in tr], [p[1] for p in tr], lw=LW, alpha=0.9)
for tr, ci in right_outliers:
    ax2.plot([p[0] for p in tr], [p[1] for p in tr], lw=LW, color=MATLAB[ci], alpha=0.9)

style(ax1, 'Trajectory set from LTBA to LEMD')
style(ax2, 'Clustered Trajectories')

fig.savefig('out.png', dpi=100)
